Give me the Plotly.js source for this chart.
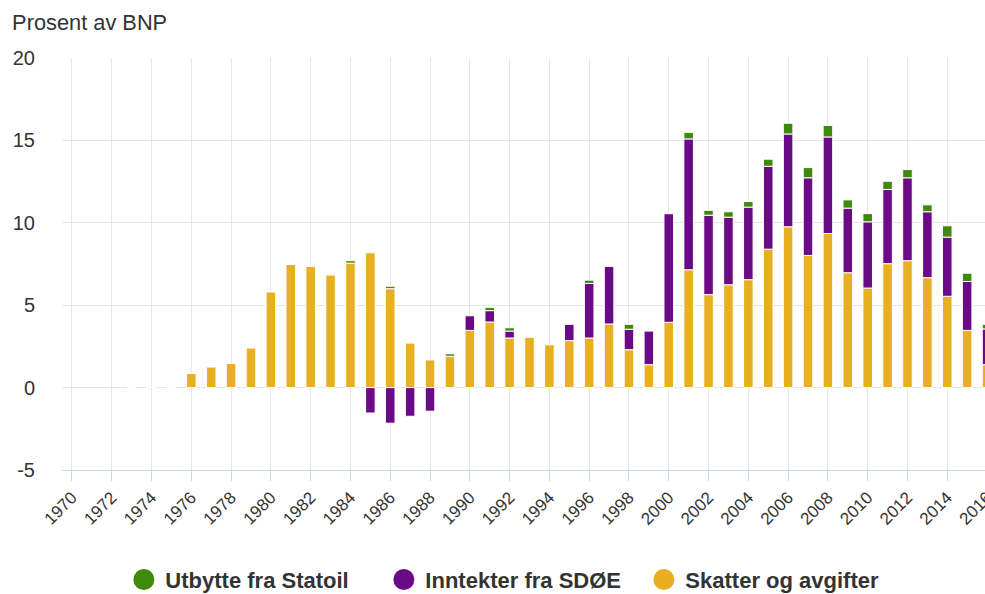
<!DOCTYPE html>
<html><head><meta charset="utf-8">
<script src="https://cdn.plot.ly/plotly-3.0.1.min.js"></script>
<style>html,body{margin:0;padding:0;overflow:hidden;background:#fff}#chart{width:1008px;height:594px}</style>
</head><body><div id="chart"></div>
<script>
const years = [1970,1971,1972,1973,1974,1975,1976,1977,1978,1979,1980,1981,1982,1983,1984,1985,1986,1987,1988,1989,1990,1991,1992,1993,1994,1995,1996,1997,1998,1999,2000,2001,2002,2003,2004,2005,2006,2007,2008,2009,2010,2011,2012,2013,2014,2015,2016];
const skatter = [null,null,null,0.03,0.03,0.03,0.85,1.25,1.47,2.4,5.8,7.47,7.35,6.83,7.55,8.18,6.0,2.7,1.68,1.9,3.47,3.98,3.01,3.05,2.6,2.85,3.01,3.86,2.3,1.39,3.96,7.15,5.64,6.24,6.55,8.4,9.76,8.02,9.35,6.97,6.04,7.52,7.7,6.67,5.54,3.47,1.39];
const sdoe = [null,null,null,null,null,null,null,null,null,null,null,null,null,null,null,-1.54,-2.16,-1.74,-1.43,null,0.89,0.69,0.42,null,null,0.99,3.31,3.49,1.24,2.04,6.59,7.94,4.82,4.1,4.4,5.03,5.63,4.71,5.86,3.92,4.02,4.5,5.03,4.0,3.59,2.97,2.17];
const statoil = [null,null,null,null,null,null,null,null,null,null,null,null,null,null,0.15,null,0.15,null,null,0.15,null,0.2,0.2,null,null,null,0.2,null,0.3,null,null,0.4,0.3,0.33,0.34,0.43,0.65,0.62,0.7,0.5,0.5,0.5,0.5,0.42,0.69,0.5,0.28];
const yTickVals = [-5,0,5,10,15,20];
const yTickText = ['-5','0','5','10','15','20'];
const seriesNames = ['Utbytte fra Statoil','Inntekter fra SDØE','Skatter og avgifter'];
const seriesColors = ['#3f8a0c','#6b0a86','#e8b021'];

const barLine = {color:'#ffffff', width:1};
function legendMarker(c){ return {color:c, size:20, symbol:'circle', line:{color:c, width:7}}; }
const traces = [
  {type:'bar', x:years, y:skatter, name:seriesNames[2], marker:{color:seriesColors[2], line:barLine}, showlegend:false, legendgroup:'s'},
  {type:'bar', x:years, y:sdoe, name:seriesNames[1], marker:{color:seriesColors[1], line:barLine}, showlegend:false, legendgroup:'d'},
  {type:'bar', x:years, y:statoil, name:seriesNames[0], marker:{color:seriesColors[0], line:barLine}, showlegend:false, legendgroup:'u'},
  {type:'scatter', mode:'markers', x:[null], y:[null], name:seriesNames[0], marker:legendMarker(seriesColors[0]), legendgroup:'u'},
  {type:'scatter', mode:'markers', x:[null], y:[null], name:seriesNames[1], marker:legendMarker(seriesColors[1]), legendgroup:'d'},
  {type:'scatter', mode:'markers', x:[null], y:[null], name:seriesNames[2], marker:legendMarker(seriesColors[2]), legendgroup:'s'}
];

const font = 'Liberation Sans, Arial, sans-serif';
const layout = {
  width:1008, height:594,
  margin:{l:62, r:11, t:58, b:124},
  paper_bgcolor:'#fff', plot_bgcolor:'#fff',
  barmode:'relative', bargap:0.52,
  font:{family:font, color:'#333'},
  title:{text:'Prosent av BNP', font:{family:font, size:21.8, color:'#333'}, xref:'container', x:0.012, xanchor:'left', yref:'container', y:0.963, yanchor:'middle'},
  xaxis:{range:[1969.5,2016.5], tick0:1970, dtick:2, tickangle:-45, ticks:'outside', ticklen:10, tickcolor:'#ccd6eb',
         showgrid:true, gridcolor:'#e6e6e6', showline:true, linecolor:'#ccd6eb', linewidth:1, zeroline:false,
         tickfont:{family:font, size:17, color:'#333'}, fixedrange:true},
  yaxis:{range:[-5,20], tickmode:'array', tickvals:yTickVals, ticktext:yTickText, showgrid:true, gridcolor:'#e6e6e6', zeroline:false, showline:false,
         ticks:'', ticklabelstandoff:26, tickfont:{family:font, size:20, color:'#333'}, fixedrange:true},
  legend:{orientation:'h', xref:'container', x:0.1214, xanchor:'left', yref:'container', y:0.024, yanchor:'middle',
          font:{family:font, size:22, color:'#333', weight:'bold'}, traceorder:'normal', itemsizing:'trace',
          itemwidth:33, entrywidth:212, entrywidthmode:'pixels'},
  showlegend:true
};
Plotly.newPlot('chart', traces, layout, {displayModeBar:false, staticPlot:true});
</script>
</body></html>
